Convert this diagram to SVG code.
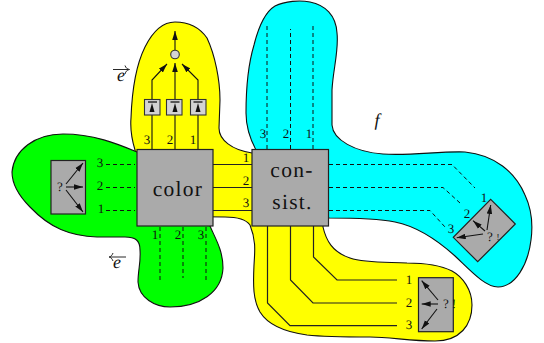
<svg xmlns="http://www.w3.org/2000/svg" width="544" height="343" viewBox="0 0 544 343">
<style>
.blob{stroke:#111;stroke-width:1.1}
.box{fill:#aaa;stroke:#222;stroke-width:1.2}
.small{fill:#d3d3d3;stroke:#333;stroke-width:1.1}
.wire{fill:none;stroke:#222;stroke-width:1.2}
.arr{fill:none;stroke:#111;stroke-width:1.1;marker-end:url(#ah)}
.dash{fill:none;stroke:#111;stroke-width:1;stroke-dasharray:4 3}
text{font-family:"Liberation Serif","DejaVu Serif",serif;fill:#111;text-rendering:geometricPrecision}
.n{font-size:13px;text-anchor:middle}
.big{font-size:21.500px;text-anchor:middle;letter-spacing:1.300px}
.it{font-size:18px;font-style:italic;text-anchor:middle}
</style>
<defs>
<marker id="ah" markerUnits="userSpaceOnUse" markerWidth="10" markerHeight="6" refX="9" refY="3" orient="auto"><path d="M0,0.200L9,3L0,5.800Z" fill="#111"/></marker>
</defs>
<g id="regions">
<path id="region-yellow" class="blob" fill="#ff0" d="M135,150C132,140 130,130 131,118C132,90 136,65 145,47C153,31 163,22 175,22C190,22 200,28 207,38C215,55 220,80 220,100L219,128C219,140 232,150 252,153L323,153L323,227C326,240 332,252 350,258C365,263 385,262 407,263C425,263 440,265 452,271C463,277 472,290 472,305C472,325 460,341 435,341C410,341 390,337 370,337C345,337 325,337 307,335C285,332 268,325 260,312C253,300 253,285 254,265C255,250 256,240 250,225C245,218 235,217 225,217L137,216Z"/>
<path id="region-green" class="blob" fill="#0f0" d="M137,152C120,145 95,134 63,134C35,134 14,150 12,172C12,185 20,197 30,207C50,228 70,236 97,237L125,237C135,237 140,240 140,250C141,262 138,270 138,282C139,298 155,307 170,307C200,307 222,292 223,268C223,250 215,238 210,226Z"/>
<path id="region-cyan" class="blob" fill="#0ff" d="M256,150C248,135 246,125 246,113C246,90 248,65 254,45C259,25 265,12 275,6C285,1 300,0 310,2C325,5 336,15 337,33C339,50 333,70 332,90L332,125C333,140 355,152 383,154C410,156 440,151 465,152C495,155 515,172 525,195C532,210 533,225 531,240C528,265 515,287 498,287C485,287 470,270 455,256C435,238 415,226 395,222C375,218 350,218 329,218Z"/>
</g>
<g id="connectors">
<path class="wire" d="M213,164.500H252M213,187.500H252M213,210.500H252"/>
<path class="arr" d="M152,149V80L167,64"/>
<path class="arr" d="M175,149V63"/>
<path class="arr" d="M198,149V80L182,64"/>
<path class="arr" d="M175,50V31"/>
<path class="dash" d="M106,164.500H135M106,187.500H135M106,210.500H135"/>
<path class="dash" d="M160,227V280M183,227V278M206,227V280"/>
<path class="dash" d="M267,149V26M290.500,149V29M313,149V26"/>
<path class="dash" d="M329,164.500H452L475,188M329,187.500H443L460,203M329,210.500H430L445,227"/>
<path class="wire" d="M313.500,226V257L337,280H397M290.500,226V280L313,303H397M267.500,226V303L290,325.700H397"/>
</g>
<g id="node-color"><rect class="box" x="137" y="149.500" width="76" height="76.500"/><text class="big" x="178" y="196">color</text></g>
<g id="node-consist"><rect class="box" x="252" y="149.500" width="76.500" height="76.500"/><text class="big" x="292" y="177">con-</text><text class="big" x="292.500" y="209">sist.</text></g>
<g id="node-gate-3"><rect class="small" x="144.500" y="99.500" width="15.500" height="15.500"/><path d="M148,102H157" stroke="#111" stroke-width="1.300"/><path d="M152,103L149.500,112H154.500Z" fill="#111"/></g>
<g id="node-gate-2"><rect class="small" x="166.500" y="99.500" width="15.500" height="15.500"/><path d="M170.500,102H179.500" stroke="#111" stroke-width="1.300"/><path d="M175,103L172.500,112H177.500Z" fill="#111"/></g>
<g id="node-gate-1"><rect class="small" x="190.500" y="99.500" width="15.500" height="15.500"/><path d="M193.500,102H202.500" stroke="#111" stroke-width="1.300"/><path d="M198,103L195.500,112H200.500Z" fill="#111"/></g>
<g id="node-merge"><circle class="small" cx="175" cy="54.500" r="4.300"/></g>
<g id="node-left"><rect class="box" x="51" y="160.500" width="34.500" height="53.500"/><text class="n" x="60" y="191">?</text>
<path class="arr" d="M66,184L83,163"/><path class="arr" d="M66,187H83"/><path class="arr" d="M66,190L83,212"/></g>
<g id="node-right"><path class="box" d="M490.700,199.300L515.300,224L477.700,261.700L453.300,237.300Z"/><text class="n" x="490" y="241">?</text><text x="498" y="240" font-size="9" text-anchor="middle">!</text>
<path class="arr" d="M487,230L490.700,205"/><path class="arr" d="M485,231L473,220.700"/><path class="arr" d="M483,234L456.700,237.700"/></g>
<g id="node-bottom"><rect class="box" x="418.500" y="277.700" width="34.800" height="54"/><text class="n" x="446" y="307.500">?</text><text class="n" x="454" y="307.500">!</text>
<path class="arr" d="M438,300L421.700,280.700"/><path class="arr" d="M438,304H421.700"/><path class="arr" d="M437,309L421.700,329"/></g>
<g id="labels">
<text class="n" x="147" y="143.500">3</text><text class="n" x="170" y="143.500">2</text><text class="n" x="193" y="143.500">1</text>
<text class="n" x="100" y="166.500">3</text><text class="n" x="100" y="189.500">2</text><text class="n" x="101" y="212.500">1</text>
<text class="n" x="246" y="161.500">1</text><text class="n" x="246" y="184.500">2</text><text class="n" x="246" y="207">3</text>
<text class="n" x="155" y="238.500">1</text><text class="n" x="178" y="238.500">2</text><text class="n" x="201" y="238.500">3</text>
<text class="n" x="263" y="137.500">3</text><text class="n" x="286" y="137.500">2</text><text class="n" x="309" y="137.500">1</text>
<text class="n" x="484" y="201.500">1</text><text class="n" x="467" y="217.500">2</text><text class="n" x="451" y="232.500">3</text>
<text class="n" x="409" y="283.500">1</text><text class="n" x="409" y="306.500">2</text><text class="n" x="409" y="328.500">3</text>
<text class="it" x="377" y="126">f</text>
<text class="it" x="121" y="80.500">e</text><path d="M113,69.500H128M125,65.500C126,68 127,69 129.500,69.500C127,70 126,71 125,74" fill="none" stroke="#111" stroke-width=".9"/>
<text class="it" x="117" y="268">e</text><path d="M126,257H110M113,253C112,255.500 111,256.500 109,257C111,257.500 112,258.500 113,261" fill="none" stroke="#111" stroke-width=".9"/>
</g>
</svg>
